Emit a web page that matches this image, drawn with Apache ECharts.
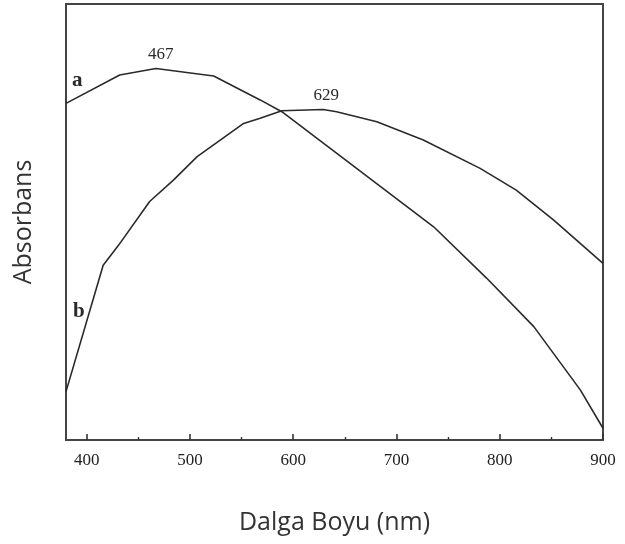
<!DOCTYPE html>
<html>
<head>
<meta charset="utf-8">
<script src="https://cdn.jsdelivr.net/npm/echarts@6/dist/echarts.min.js"></script>
<style>
  html, body { margin: 0; padding: 0; background: #fff; }
  #chart { width: 625px; height: 544px; }
</style>
</head>
<body>
<div id="chart"></div>
<script>
// Absorption spectra of samples a and b (relative absorbance)
const waveA = [380, 432, 467, 523, 568, 589, 736, 787, 833, 878, 900];
const absA  = [0.772, 0.837, 0.852, 0.835, 0.780, 0.753, 0.489, 0.372, 0.260, 0.115, 0.027];

const waveB = [380, 416, 431, 461, 484, 507, 552, 568, 589, 629, 642, 681, 726, 781, 816, 852, 900];
const absB  = [0.111, 0.401, 0.447, 0.547, 0.596, 0.650, 0.726, 0.738, 0.755, 0.758, 0.753, 0.730, 0.688, 0.623, 0.573, 0.505, 0.405];

const majorTicks = [400, 500, 600, 700, 800, 900];
const minorTicks = [450, 550, 650, 750, 850];

const peakA = 467;
const peakB = 629;

const serif = '"Liberation Serif", "DejaVu Serif", serif';
const sans = '"Open Sans", "Noto Sans", sans-serif';
const ink = '#2a2a2a';

// Curve name goes next to the first point, the peak wavelength above the maximum.
function buildData(waves, vals, curveName, peak) {
  return waves.map((w, i) => {
    const item = { value: [w, vals[i]] };
    if (i === 0) {
      item.label = {
        show: true, formatter: curveName, position: 'right',
        offset: curveName === 'a' ? [1, -23] : [2, -80],
        fontFamily: serif, fontSize: 21, fontWeight: 'bold', color: ink
      };
    } else if (w === peak) {
      item.label = {
        show: true, formatter: String(peak), position: 'top',
        offset: curveName === 'a' ? [5, 0] : [3, 0],
        fontFamily: serif, fontSize: 17, color: ink
      };
    }
    return item;
  });
}

const chart = echarts.init(document.getElementById('chart'), null, { renderer: 'canvas' });

const lineSeries = (name, waves, vals, peak) => ({
  name, type: 'line', xAxisIndex: 0,
  symbol: 'circle', symbolSize: 0, showSymbol: true,
  itemStyle: { color: ink },
  lineStyle: { color: ink, width: 1.6 },
  label: { show: false },
  data: buildData(waves, vals, name, peak)
});

chart.setOption({
  animation: false,
  backgroundColor: '#fff',
  grid: {
    left: 66, top: 4, right: 22, bottom: 104,
    show: true, borderColor: '#444', borderWidth: 2, backgroundColor: 'transparent'
  },
  xAxis: [
    {
      type: 'value', min: 380, max: 900,
      name: 'Dalga Boyu (nm)', nameLocation: 'middle', nameGap: 70,
      nameTextStyle: { fontFamily: sans, fontSize: 25, color: '#333' },
      axisLine: { show: false },
      axisTick: { show: true, inside: true, length: 6, customValues: majorTicks,
                  lineStyle: { color: '#333', width: 1.6 } },
      axisLabel: { show: true, customValues: majorTicks, margin: 12,
                   fontFamily: serif, fontSize: 17, color: '#222' },
      splitLine: { show: false }
    },
    {
      type: 'value', min: 380, max: 900, position: 'bottom', gridIndex: 0,
      axisLine: { show: false },
      axisTick: { show: true, inside: true, length: 3, customValues: minorTicks,
                  lineStyle: { color: '#333', width: 1.4 } },
      axisLabel: { show: false },
      splitLine: { show: false }
    }
  ],
  yAxis: {
    type: 'value', min: 0, max: 1,
    name: 'Absorbans', nameLocation: 'middle', nameGap: 30,
    nameTextStyle: { fontFamily: sans, fontSize: 25, color: '#333' },
    axisLine: { show: false }, axisTick: { show: false },
    axisLabel: { show: false }, splitLine: { show: false }
  },
  series: [
    lineSeries('a', waveA, absA, peakA),
    lineSeries('b', waveB, absB, peakB)
  ]
});
</script>
</body>
</html>
